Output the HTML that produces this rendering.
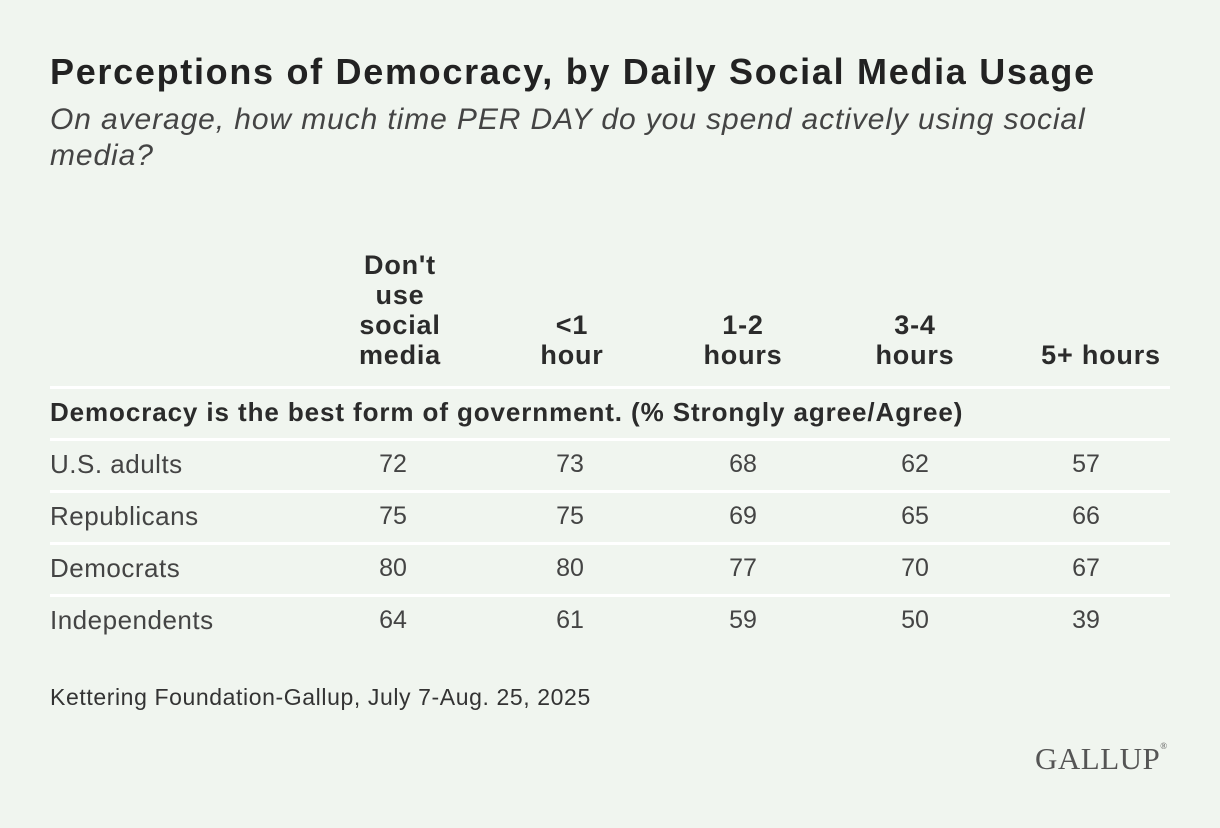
<!DOCTYPE html>
<html><head><meta charset="utf-8"><style>
body{margin:0;width:1220px;height:828px;background:#f0f5ef;font-family:"Liberation Sans",sans-serif;color:#333;position:relative;overflow:hidden}
.a{position:absolute;white-space:nowrap}
.hdr{position:absolute;bottom:458px;font-weight:bold;font-size:27px;letter-spacing:0.8px;line-height:30px;text-align:center;width:190px;color:#2b2b2b}
.line{position:absolute;left:50px;width:1120px;height:3px;background:#fff}
.cell{position:absolute;width:100px;text-align:center;font-size:25px;color:#444}
.lab{position:absolute;left:50px;font-size:26px;letter-spacing:0.5px;color:#444}
</style></head><body>
<div class="a" style="left:50px;top:51px;font-size:36px;letter-spacing:1.7px;font-weight:bold;color:#222">Perceptions of Democracy, by Daily Social Media Usage</div>
<div class="a" style="left:50px;top:102px;font-size:30px;letter-spacing:0.9px;font-style:italic;line-height:36px;color:#444;white-space:normal;width:1100px">On average, how much time PER DAY do you spend actively using social media?</div>
<div id="tbl"></div>
<div class="a" style="left:50px;top:684px;font-size:23px;letter-spacing:0.6px;color:#333">Kettering Foundation-Gallup, July 7-Aug. 25, 2025</div>
<div class="a" style="left:1035px;top:741px;font-family:'Liberation Serif',serif;font-size:31px;letter-spacing:0.5px;color:#555">GALLUP<span style="font-size:9px;vertical-align:top">®</span></div>
<script>
const columns=["Don't<br>use<br>social<br>media","<1<br>hour","1-2<br>hours","3-4<br>hours","5+ hours"];
const rowLabels=["U.S. adults","Republicans","Democrats","Independents"];
const vUS=[72,73,68,62,57];
const vRep=[75,75,69,65,66];
const vDem=[80,80,77,70,67];
const vInd=[64,61,59,50,39];
const series=[vUS,vRep,vDem,vInd];
const hdrX=[400,572,743,915,1101];
const valX=[393,570,743,915,1086];
const t=document.getElementById('tbl');
columns.forEach((c,i)=>{const d=document.createElement('div');d.className='hdr';d.style.left=(hdrX[i]-95)+'px';d.innerHTML=c.replace('<1','&lt;1');


t.appendChild(d);});
[386,438,490,542,594].forEach(y=>{const l=document.createElement('div');l.className='line';l.style.top=y+'px';


t.appendChild(l);});
const s=document.createElement('div');s.className='lab';s.style.top='397px';s.style.fontWeight='bold';s.style.fontSize='26px';s.style.letterSpacing='0.9px';s.style.color='#2b2b2b';s.textContent='Democracy is the best form of government. (% Strongly agree/Agree)';


t.appendChild(s);
rowLabels.forEach((r,i)=>{const top=449+i*52;
const l=document.createElement('div');l.className='lab';l.style.top=top+'px';l.textContent=r;


t.appendChild(l);
series[i].forEach((v,j)=>{const c=document.createElement('div');c.className='cell';c.style.top=(top+1)+'px';c.style.left=(valX[j]-50)+'px';c.textContent=v;


t.appendChild(c);});});
</script>
</body></html>
